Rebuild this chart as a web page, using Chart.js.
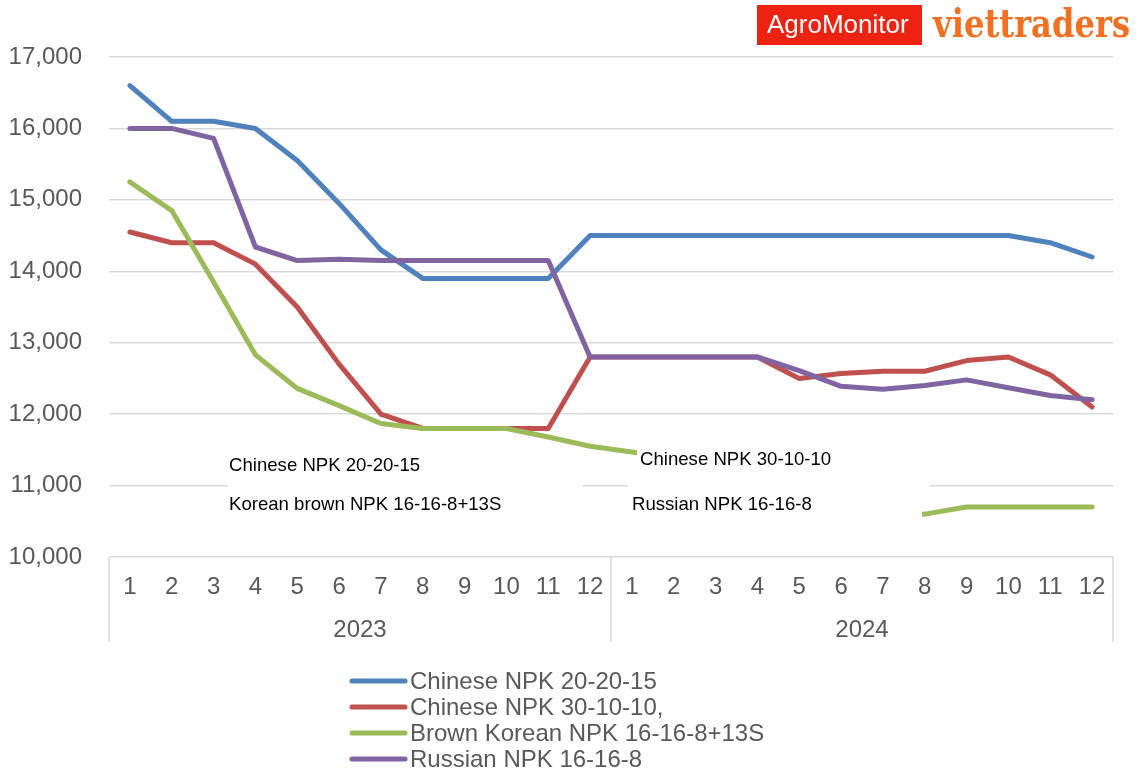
<!DOCTYPE html>
<html>
<head>
<meta charset="utf-8">
<script src="https://cdn.jsdelivr.net/npm/chart.js@4"></script>
<style>
  html, body { margin: 0; padding: 0; background: #ffffff; }
  #c { display: block; }
</style>
</head>
<body>
<canvas id="c" width="1139" height="773"></canvas>
<script>
// ---- data ----
const months = ['1','2','3','4','5','6','7','8','9','10','11','12','1','2','3','4','5','6','7','8','9','10','11','12'];
const years = ['2023', '2024'];
const seriesNames = ['Chinese NPK 20-20-15', 'Chinese NPK 30-10-10,', 'Brown Korean NPK 16-16-8+13S', 'Russian NPK 16-16-8'];
const chinese202015 = [16600,16100,16100,16000,15550,14950,14300,13900,13900,13900,13900,14500,
                       14500,14500,14500,14500,14500,14500,14500,14500,14500,14500,14400,14200];
const chinese301010 = [14550,14400,14400,14100,13500,12700,12000,11800,11800,11800,11800,12800,
                       12800,12800,12800,12800,12500,12570,12600,12600,12750,12800,12550,12100];
const brownKorean   = [15250,14850,13850,12830,12360,12120,11870,11800,11800,11800,11680,11550,
                       11470,11400,11300,11100,10900,10700,10600,10600,10700,10700,10700,10700];
const russian       = [16000,16000,15860,14340,14150,14170,14150,14150,14150,14150,14150,12800,
                       12800,12800,12800,12800,12610,12390,12350,12400,12480,12370,12260,12200];
const yTicks = [10000,11000,12000,13000,14000,15000,16000,17000];
const overlayLabels = ['Chinese NPK 20-20-15', 'Korean brown NPK 16-16-8+13S', 'Chinese NPK 30-10-10', 'Russian NPK 16-16-8'];
const logoTexts = ['AgroMonitor', 'viettraders'];

const colors = ['#4F81BD', '#C0504D', '#9BBB59', '#8064A2'];
const seriesValues = [chinese202015, chinese301010, brownKorean, russian];
const FONT = '"Liberation Sans", Arial, sans-serif';
const GREY = '#595959';

const datasets = seriesValues.map((vals, i) => ({
  label: seriesNames[i],
  data: vals,
  borderColor: colors[i],
  backgroundColor: colors[i],
  borderWidth: 5,
  pointRadius: 0,
  pointHoverRadius: 0,
  tension: 0,
  borderCapStyle: 'round',
  borderJoinStyle: 'round',
  fill: false,
  order: 3 - i
}));

const extras = {
  id: 'extras',
  afterDatasetsDraw(chart) {
    const ctx = chart.ctx;
    const x = chart.scales.x, y = chart.scales.y;
    const ca = chart.chartArea;
    ctx.save();
    // white label boxes (occlude lines like in reference)
    ctx.fillStyle = '#ffffff';
    ctx.fillRect(228, 451, 355, 79);
    ctx.fillRect(637, 440, 293, 48);
    ctx.fillRect(628, 484, 294, 46);
    ctx.fillStyle = '#000000';
    ctx.font = '18.6px ' + FONT;
    ctx.textBaseline = 'middle';
    ctx.textAlign = 'left';
    ctx.fillText(overlayLabels[0], 229, 466);
    ctx.fillText(overlayLabels[1], 229, 505);
    ctx.fillText(overlayLabels[2], 640, 460);
    ctx.fillText(overlayLabels[3], 632, 505);

    // category group lines
    ctx.strokeStyle = '#D9D9D9';
    ctx.lineWidth = 1.5;
    const bottom = 642;
    const xl = ca.left, xr = ca.right;
    const xm = (x.getPixelForValue(11) + x.getPixelForValue(12)) / 2;
    [xl, xm, xr].forEach(px => {
      ctx.beginPath();
      ctx.moveTo(px, ca.bottom);
      ctx.lineTo(px, bottom);
      ctx.stroke();
    });
    // year labels
    ctx.fillStyle = GREY;
    ctx.font = '24px ' + FONT;
    ctx.textAlign = 'center';
    ctx.fillText(years[0], (xl + xm) / 2, 630);
    ctx.fillText(years[1], (xm + xr) / 2, 630);

    // legend
    const legX = 352, legLen = 53, legY0 = 681, legStep = 26;
    seriesNames.forEach((name, i) => {
      const ly = legY0 + i * legStep;
      ctx.strokeStyle = colors[i];
      ctx.lineWidth = 5;
      ctx.lineCap = 'round';
      ctx.beginPath();
      ctx.moveTo(legX, ly);
      ctx.lineTo(legX + legLen, ly);
      ctx.stroke();
      ctx.fillStyle = GREY;
      ctx.font = '24px ' + FONT;
      ctx.textAlign = 'left';
      ctx.textBaseline = 'middle';
      ctx.fillText(name, 410, ly + 1);
    });

    // logos
    ctx.fillStyle = '#EE2211';
    ctx.fillRect(757, 5, 165, 40);
    ctx.fillStyle = '#ffffff';
    ctx.font = '26px ' + FONT;
    ctx.textAlign = 'left';
    ctx.textBaseline = 'middle';
    ctx.fillText(logoTexts[0], 767, 26, 146);
    ctx.fillStyle = '#F36F21';
    ctx.font = 'bold 40px "DejaVu Serif", "Liberation Serif", serif';
    ctx.textBaseline = 'alphabetic';
    ctx.fillText(logoTexts[1], 933, 37, 197);
    ctx.restore();
  }
};

new Chart(document.getElementById('c'), {
  type: 'line',
  data: { labels: months, datasets },
  options: {
    responsive: false,
    animation: false,
    events: [],
    layout: { padding: { top: 57, right: 26, bottom: 0, left: 0 } },
    plugins: { legend: { display: false }, tooltip: { enabled: false }, title: { display: false } },
    scales: {
      x: {
        type: 'category',
        offset: true,
        grid: { display: false, drawTicks: false },
        border: { display: false },
        ticks: { color: GREY, font: { family: FONT, size: 24 }, padding: 16, maxRotation: 0, autoSkip: false },
        afterFit(scale) { scale.height = 216; }
      },
      y: {
        min: 10000, max: 17000,
        afterBuildTicks(scale) { scale.ticks = yTicks.map(v => ({ value: v })); },
        grid: { color: '#D9D9D9', lineWidth: 1.5, drawTicks: false },
        border: { display: false },
        ticks: {
          color: GREY, font: { family: FONT, size: 24 }, padding: 27,
          callback: v => v.toLocaleString('en-US')
        },
        afterFit(scale) { scale.width = 109; }
      }
    }
  },
  plugins: [extras]
});
</script>
</body>
</html>
